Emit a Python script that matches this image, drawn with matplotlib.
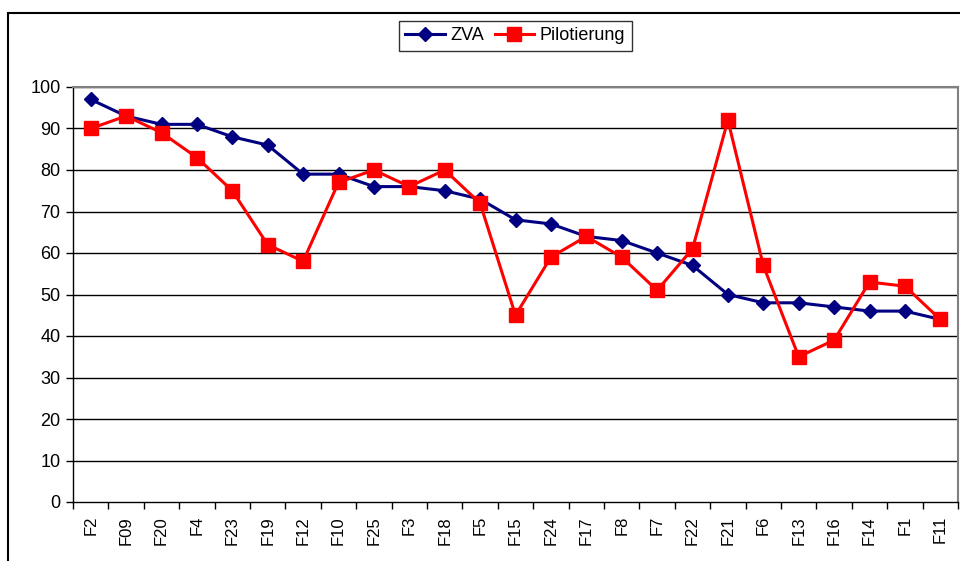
import numpy as np
import matplotlib
matplotlib.use("Agg")
import matplotlib.pyplot as plt
from matplotlib.patches import Rectangle

plt.rcParams['font.family'] = ['Liberation Sans', 'DejaVu Sans']

categories = ["F2", "F09", "F20", "F4", "F23", "F19", "F12", "F10", "F25", "F3",
              "F18", "F5", "F15", "F24", "F17", "F8", "F7", "F22", "F21", "F6",
              "F13", "F16", "F14", "F1", "F11"]
zva = [97, 93, 91, 91, 88, 86, 79, 79, 76, 76, 75, 73, 68, 67, 64, 63, 60, 57,
       50, 48, 48, 47, 46, 46, 44]
pilot = [90, 93, 89, 83, 75, 62, 58, 77, 80, 76, 80, 72, 45, 59, 64, 59, 51, 61,
         92, 57, 35, 39, 53, 52, 44]
yticks = list(range(0, 101, 10))

fig = plt.figure(figsize=(9.6, 5.61), dpi=100)
ax = fig.add_axes([73 / 960, 1 - 502 / 561, (958 - 73) / 960, (502 - 87) / 561])

x = np.arange(len(categories))
ax.plot(x, zva, color='#000080', lw=2.2, marker='D', ms=7.5, label='ZVA', zorder=3)
ax.plot(x, pilot, color='#ff0000', lw=2.2, marker='s', ms=9.5, label='Pilotierung', zorder=4)

ax.set_xlim(-0.5, len(categories) - 0.5)
ax.set_ylim(0, 100)
ax.set_yticks(yticks)
ax.set_yticklabels([str(v) for v in yticks], fontsize=13)
for v in yticks[1:]:
    ax.axhline(v, color='black', lw=1, zorder=1)

# category ticks sit between labels, labels centred under points
ax.set_xticks(np.arange(len(categories) + 1) - 0.5)
ax.set_xticklabels([])
ax.set_xticks(x, minor=True)
ax.set_xticklabels(categories, minor=True, rotation=90, fontsize=12)
ax.tick_params(axis='x', which='minor', length=0, pad=10)
ax.tick_params(axis='x', which='major', length=5, direction='out', width=1)
ax.tick_params(axis='y', length=5, direction='out', width=1, pad=4)

for s in ['top', 'right']:
    ax.spines[s].set_color('#808080')
    ax.spines[s].set_linewidth(1.5)
for s in ['left', 'bottom']:
    ax.spines[s].set_color('black')
    ax.spines[s].set_linewidth(1)

leg = fig.legend(loc='center', bbox_to_anchor=(515 / 960, 1 - 36 / 561), ncol=2,
                 frameon=True, fancybox=False, edgecolor='black', fontsize=13,
                 handlelength=2.2, handletextpad=0.3, columnspacing=0.6,
                 borderpad=0.35)
leg.get_frame().set_linewidth(1)

# outer chart frame
fig.patches.append(Rectangle((8 / 960, -0.1), 1.2, 1.1 - 13 / 561,
                             transform=fig.transFigure, fill=False,
                             edgecolor='black', lw=1.5))

fig.savefig('out.png', dpi=100)
